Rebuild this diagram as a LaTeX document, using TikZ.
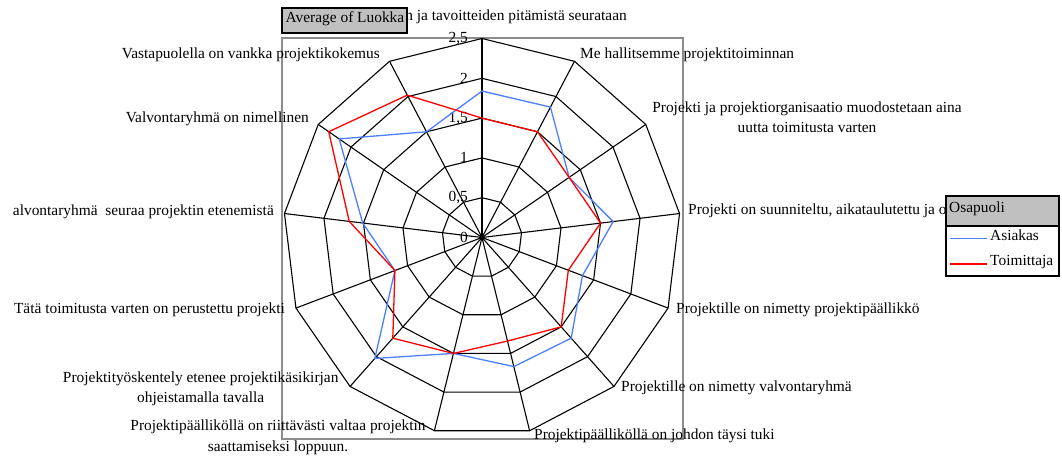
\documentclass[tikz,border=0pt]{standalone}
\usepackage{fontspec}
\setmainfont{Liberation Serif}
\definecolor{seriesA}{RGB}{77,128,255}
\definecolor{seriesB}{RGB}{255,0,0}
\definecolor{panel}{RGB}{192,192,192}
\definecolor{framegray}{RGB}{140,140,140}

\begin{document}
\begin{tikzpicture}[x=1pt,y=-1pt,
  lbl/.style={font=\fontsize{15.4}{20}\selectfont, inner sep=0pt},
  vlbl/.style={font=\fontsize{15.4}{18}\selectfont, inner sep=0pt},
  gridline/.style={black, line width=1.1pt},
  serieline/.style={line width=1.3pt, line join=round}]
\useasboundingbox (0,0) rectangle (1062,455);
\clip (0,0) rectangle (1062,455);
\fill[white] (0,0) rectangle (1062,455);

% plot area frame
\draw[framegray, line width=1.1pt] (282,38) rectangle (683,439);

\def\R{199}
\begin{scope}[shift={(482,237.5)}]
  \coordinate (ctr) at (0,0);
  % rings at 0.5 ... 2.5
  \foreach \v in {0.5,1,1.5,2,2.5}{
    \pgfmathsetmacro\rr{\v*\R/2.5}
    \draw[gridline] (-90:\rr) \foreach \k in {1,...,12}{ -- ({-90+\k*360/13}:\rr)} -- cycle;
  }
  % spokes
  \foreach \k in {0,...,12}
    \draw[gridline] (ctr) -- ({-90+\k*360/13}:\R);
  \fill (ctr) circle (2.5);
  % value scale
  \foreach \v/\t in {0/0,0.5/{0,5},1/1,1.5/{1,5},2/2,2.5/{2,5}}
    \node[vlbl, anchor=east] at (-14,{-\v*\R/2.5}) {\t};
  % series: Asiakas
  \foreach \v [count=\i from 0] in {1.84,1.85,1.33,1.66,1.35,1.69,1.67,1.5,2.03,1.17,1.51,2.18,1.5}
    \coordinate (a\i) at ({-90+\i*360/13}:{\v*\R/2.5});
  % series: Toimittaja
  \foreach \v [count=\i from 0] in {1.5,1.5,1.33,1.5,1.16,1.5,1.34,1.5,1.69,1.17,1.68,2.34,2.02}
    \coordinate (t\i) at ({-90+\i*360/13}:{\v*\R/2.5});
\end{scope}
\draw[serieline, seriesA] (a0) \foreach \i in {1,...,12}{ -- (a\i)} -- cycle;
\draw[serieline, seriesB] (t0) \foreach \i in {1,...,12}{ -- (t\i)} -- cycle;

% axis labels
\node[lbl, anchor=mid east] (l0) at (627,18.7) {n ja tavoitteiden pitämistä seurataan};
\node[lbl, anchor=mid west] (l1) at (580,56.5) {Me hallitsemme projektitoiminnan};
\node[lbl, align=center] (l2) at (807,117.5) {Projekti ja projektiorganisaatio muodostetaan aina\\uutta toimitusta varten};
\node[lbl, anchor=mid west] (l3) at (688,212.7) {Projekti on suunniteltu, aikataulutettu ja o};
\node[lbl, anchor=mid west] (l4) at (676,310.7) {Projektille on nimetty projektipäällikkö};
\node[lbl, anchor=mid west] (l5) at (621,389.3) {Projektille on nimetty valvontaryhmä};
\node[lbl, anchor=mid west] (l6) at (534,436.7) {Projektipäälliköllä on johdon täysi tuki};
\node[lbl, align=center, font=\fontsize{15.4}{21}\selectfont] (l7) at (278,437.5) {Projektipäälliköllä on riittävästi valtaa projektin\\saattamiseksi loppuun.};
\node[lbl, align=center] (l8) at (200.7,389) {Projektityöskentely etenee projektikäsikirjan\\ohjeistamalla tavalla};
\node[lbl, anchor=mid east] (l9) at (285,311) {Tätä toimitusta varten on perustettu projekti};
\node[lbl, anchor=mid east] (l10) at (274,213.3) {alvontaryhmä\ \ seuraa projektin etenemistä};
\node[lbl, anchor=mid east] (l11) at (309,120.7) {Valvontaryhmä on nimellinen};
\node[lbl, anchor=mid east] (l12) at (380,56) {Vastapuolella on vankka projektikokemus};

% data field button
\node[draw=black, line width=1.4pt, fill=panel, minimum width=125, minimum height=25, inner sep=0pt] (field) at (344.5,20.5) {};
\node[lbl, anchor=mid west] (fieldtext) at (285.5,20.7) {Average of Luokka};

% legend
\fill[white] (946,196) rectangle (1059,276);
\fill[panel] (946,196) rectangle (1059,226);
\draw[black, line width=1.2pt] (946,196) rectangle (1059,276);
\draw[black, line width=2pt] (946,226) -- (1059,226);
\node[lbl, anchor=mid west] (legtitle) at (949,210) {Osapuoli};
\coordinate (lgA1) at (950,238.5); \coordinate (lgA2) at (987,238.5);
\coordinate (lgB1) at (950,264); \coordinate (lgB2) at (987,264);
\draw[serieline, seriesA] (lgA1) -- (lgA2);
\draw[serieline, seriesB] (lgB1) -- (lgB2);
\node[lbl, anchor=mid west] (legA) at (990,238) {Asiakas};
\node[lbl, anchor=mid west] (legB) at (990,263.5) {Toimittaja};
\end{tikzpicture}
\end{document}
